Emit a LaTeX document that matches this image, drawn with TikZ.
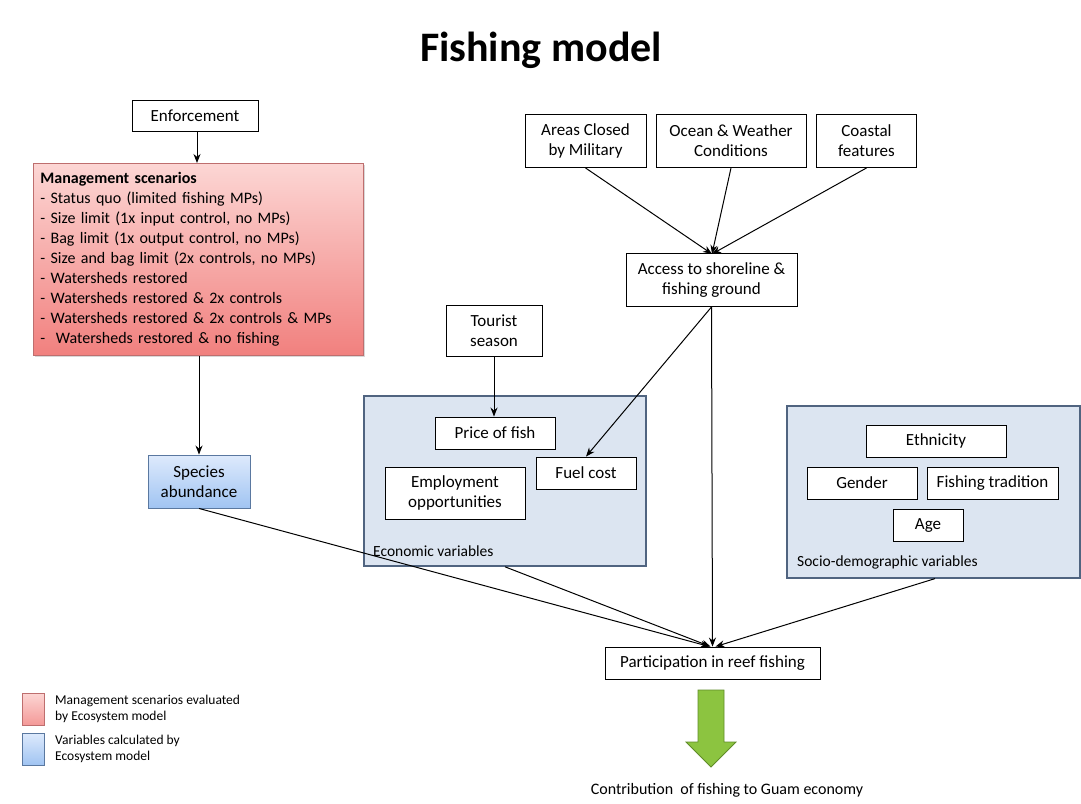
\documentclass[tikz,border=0pt]{standalone}
\usepackage{fontspec}
\setmainfont{Carlito}
\usetikzlibrary{arrows.meta,shadows}

\definecolor{mgmtTop}{RGB}{252,214,212}
\definecolor{mgmtBot}{RGB}{241,128,126}
\definecolor{mgmtLine}{RGB}{190,110,110}
\definecolor{absTop}{RGB}{222,234,252}
\definecolor{absBot}{RGB}{160,196,242}
\definecolor{absLine}{RGB}{90,120,160}
\definecolor{groupFill}{RGB}{220,229,241}
\definecolor{groupLine}{RGB}{80,100,128}
\definecolor{arrowGreen}{RGB}{140,196,64}
\definecolor{arrowGreenLine}{RGB}{96,140,40}

\tikzset{
  box/.style={draw=black, line width=0.9pt, fill=white, align=center,
    font=\fontsize{17}{20}\selectfont, inner sep=2pt},
  group/.style={draw=groupLine, line width=1.6pt, fill=groupFill},
  grouplabel/.style={anchor=west, font=\fontsize{15.5}{18}\selectfont, inner sep=0pt},
  link/.style={line width=1pt, -{Stealth[length=9pt,width=7pt]}},
  legendtext/.style={anchor=west, align=left, font=\fontsize{13.5}{16}\selectfont, inner sep=0pt}
}

\begin{document}
\begin{tikzpicture}[x=1pt,y=-1pt]
\useasboundingbox (0,0) rectangle (1081,803);
\fill[white] (0,0) rectangle (1081,803);

% title
\node[font=\fontsize{42}{48}\selectfont\bfseries] (title) at (541,50) {Fishing model};

% management side
\node[box, minimum width=126, minimum height=31] (enf) at (195,115.5) {Enforcement};
\node[draw=mgmtLine, line width=0.8pt, top color=mgmtTop, bottom color=mgmtBot,
      drop shadow={shadow xshift=2pt, shadow yshift=-2pt, opacity=0.3},
      anchor=north west, minimum width=330, minimum height=192, text width=316,
      align=left, inner sep=7pt, font=\fontsize{16}{20}\selectfont] (mgmt) at (33,163)
  {\textbf{Management scenarios}\\
   - Status quo (limited fishing MPs)\\
   - Size limit (1x input control, no MPs)\\
   - Bag limit (1x output control, no MPs)\\
   - Size and bag limit (2x controls, no MPs)\\
   - Watersheds restored\\
   - Watersheds restored \& 2x controls\\
   - Watersheds restored \& 2x controls \& MPs\\
   -\ \ Watersheds restored \& no fishing};
\node[box, draw=absLine, top color=absTop, bottom color=absBot,
      minimum width=102, minimum height=53] (abund) at (199,481.5) {Species\\abundance};

% access factors
\node[box, minimum width=121, minimum height=53] (mil) at (585.5,141) {Areas Closed\\by Military};
\node[box, minimum width=150, minimum height=53] (ocean) at (731,141) {Ocean \& Weather\\Conditions};
\node[box, minimum width=100, minimum height=53] (coast) at (866.5,141) {Coastal\\features};
\node[box, minimum width=171, minimum height=53] (access) at (711.5,280) {Access to shoreline \&\\fishing ground};
\coordinate (meet) at (712,254);

% economic variables
\node[group, minimum width=282, minimum height=170] (econ) at (505,481) {};
\node[grouplabel] (econlab) at (373,551) {Economic variables};
\node[box, minimum width=96, minimum height=51] (tour) at (494,330.5) {Tourist\\season};
\node[box, minimum width=120, minimum height=32] (price) at (495,433) {Price of fish};
\node[box, minimum width=100, minimum height=32] (fuel) at (586,473) {Fuel cost};
\node[box, minimum width=140, minimum height=52] (employ) at (455,493) {Employment\\opportunities};

% socio-demographic variables
\node[group, anchor=north west, minimum width=293, minimum height=172] (socio) at (786,405) {};
\node[grouplabel] (sociolab) at (797,562) {Socio-demographic variables};
\node[box, minimum width=140, minimum height=32] (eth) at (936,441) {Ethnicity};
\node[box, minimum width=110, minimum height=32] (gender) at (862,483) {Gender};
\node[box, minimum width=131, minimum height=32] (trad) at (992.5,483) {Fishing tradition};
\node[box, minimum width=70, minimum height=32] (age) at (928,525) {Age};

% outcome
\node[box, minimum width=215, minimum height=32] (part) at (712.5,663) {Participation in reef fishing};
\node[font=\fontsize{16}{20}\selectfont] (contrib) at (727,790) {Contribution\ \ of fishing to Guam economy};
\draw[draw=arrowGreenLine, line width=0.8pt, fill=arrowGreen]
  (698,690) -- (724,690) -- (724,742) -- (736,742) -- (711,767) -- (686,742) -- (698,742) -- cycle;

% connectors
\draw[link] (enf.south -| 197,0) -- (mgmt.north -| 197,0);
\draw[link] (mgmt.south -| 199,0) -- (abund.north);
\draw[link] (tour.south) -- (price.north -| tour.south);
\draw[link] (mil.south) -- (meet);
\draw[link] (ocean.south) -- (meet);
\draw[link] (coast.south) -- (meet);
\draw[link] (access.south) -- (fuel.north);
\draw[link] (access.south) -- (part.north);
\draw[link] (abund.south) -- ([xshift=-3pt]part.north);
\draw[link] (econ.south) -- ([xshift=-2pt]part.north);
\draw[link] (socio.south -| 935,0) -- ([xshift=3pt]part.north);

% legend
\node[draw=mgmtLine, line width=0.6pt, top color=mgmtTop, bottom color=mgmtBot!80!white,
      minimum width=22, minimum height=32, inner sep=0pt] (legmgmt) at (33,709) {};
\node[draw=absLine, line width=0.6pt, top color=absTop, bottom color=absBot,
      minimum width=22, minimum height=32, inner sep=0pt] (legabund) at (33,749) {};
\node[legendtext] (legmgmttext) at (55,709) {Management scenarios evaluated\\by Ecosystem model};
\node[legendtext] (legabundtext) at (55,749) {Variables calculated by\\Ecosystem model};
\end{tikzpicture}
\end{document}
